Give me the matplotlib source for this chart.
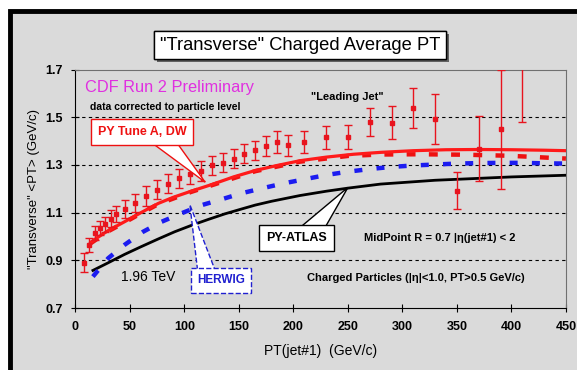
import matplotlib
matplotlib.use("Agg")
import matplotlib.pyplot as plt
from matplotlib.patches import Rectangle, Polygon
from matplotlib import patheffects

plt.rcParams['font.family'] = ['Liberation Sans', 'DejaVu Sans']

# CDF data (corrected to particle level)
pt_data = [7.5, 12.5, 17.5, 22.5, 27.5, 32.5, 37.5, 45, 55, 65, 75, 85, 95, 105, 115,
           125, 135, 145, 155, 165, 175, 185, 195, 210, 230, 250, 270, 290, 310, 330,
           350, 370, 390, 410]
avg_data = [0.891, 0.966, 1.016, 1.036, 1.051, 1.075, 1.095, 1.116, 1.141, 1.170, 1.197,
            1.221, 1.245, 1.261, 1.275, 1.298, 1.310, 1.327, 1.347, 1.361, 1.379, 1.396,
            1.382, 1.397, 1.417, 1.417, 1.481, 1.478, 1.540, 1.492, 1.193, 1.369, 1.450,
            1.73]
err_data = [0.04, 0.03, 0.03, 0.03, 0.03, 0.035, 0.035, 0.037, 0.038, 0.04, 0.04, 0.04,
            0.04, 0.04, 0.04, 0.04, 0.04, 0.04, 0.04, 0.04, 0.042, 0.045, 0.045, 0.045,
            0.048, 0.052, 0.059, 0.07, 0.084, 0.106, 0.078, 0.136, 0.25, 0.25]

# PYTHIA Tune A
pt_tunea = [14, 20, 30, 45, 60, 76, 90, 106, 125, 145, 165, 185, 206, 230, 255, 280,
            310, 340, 370, 400, 430, 450]
avg_tunea = [0.975, 0.995, 1.025, 1.062, 1.100, 1.139, 1.165, 1.190, 1.218, 1.250, 1.277,
             1.298, 1.318, 1.333, 1.345, 1.353, 1.360, 1.364, 1.365, 1.364, 1.362, 1.360]

# PYTHIA DW
pt_dw = [14, 30, 45, 60, 76, 106, 125, 165, 206, 250, 280, 316, 359, 396, 415, 436, 450]
avg_dw = [0.972, 1.022, 1.059, 1.097, 1.136, 1.187, 1.215, 1.274, 1.314, 1.338, 1.344,
          1.345, 1.343, 1.339, 1.335, 1.330, 1.327]

# HERWIG
pt_herwig = [16, 30, 45, 62, 79, 97, 116, 134, 152, 171, 191, 211, 230, 250, 270, 290,
             310, 330, 350, 370, 390, 410, 430, 450]
avg_herwig = [0.832, 0.909, 0.965, 1.020, 1.062, 1.097, 1.132, 1.156, 1.181, 1.202, 1.223,
              1.241, 1.258, 1.272, 1.283, 1.292, 1.298, 1.302, 1.306, 1.308, 1.309, 1.309,
              1.307, 1.306]

# PYTHIA ATLAS
pt_atlas = [16, 30, 45, 60, 76, 91, 107, 122, 137, 152, 165, 180, 206, 230, 250, 280,
            330, 400, 450]
avg_atlas = [0.858, 0.890, 0.925, 0.957, 0.990, 1.020, 1.048, 1.072, 1.095, 1.115, 1.132,
             1.148, 1.172, 1.190, 1.203, 1.220, 1.236, 1.250, 1.257]

x_ticks = [0, 50, 100, 150, 200, 250, 300, 350, 400, 450]
y_ticks = [0.7, 0.9, 1.1, 1.3, 1.5, 1.7]
grid_lines = [0.9, 1.1, 1.3, 1.5]

bg = '#dadada'
fig = plt.figure(figsize=(5.77, 3.70), dpi=100)
fig.patch.set_facecolor('white')

# outer black frame (cut off at right and bottom)
frame = Rectangle((10 / 577, -0.1), 1.2, 1.1 - 11 / 370, transform=fig.transFigure,
                  facecolor=bg, edgecolor='black', linewidth=3.5, zorder=-5)
fig.add_artist(frame)

ax = fig.add_axes([0.1308, 0.1673, 0.850, 0.6446])
ax.set_facecolor(bg)

for g in grid_lines:
    ax.axhline(g, color='black', lw=0.8, ls=(0, (3, 3)), zorder=1)

ax.plot(pt_atlas, avg_atlas, color='black', lw=2.0, zorder=3)
ax.plot(pt_herwig, avg_herwig, color='#1c1cf0', lw=3.2, ls=(0, (1.8, 3.2)), zorder=3)
ax.plot(pt_dw, avg_dw, color='#ee1111', lw=3.2, ls=(0, (2.0, 3.0)), zorder=3)
ax.plot(pt_tunea, avg_tunea, color='#ff1a1a', lw=2.3, zorder=4)
ax.errorbar(pt_data, avg_data, yerr=err_data, fmt='s', color='#e8141e', ms=3.5,
            elinewidth=1.0, capsize=3, capthick=1.0, zorder=5)

ax.set_xlim(0, 450)
ax.set_ylim(0.7, 1.7)
ax.set_xticks(x_ticks)
ax.set_yticks(y_ticks)
ax.set_xticklabels([str(v) for v in x_ticks], fontweight='bold', fontsize=9)
ax.set_yticklabels(['%.1f' % v for v in y_ticks], fontweight='bold', fontsize=9)
ax.tick_params(direction='inout', length=6, width=0.8, pad=6)
ax.spines['left'].set_color('black')
ax.spines['bottom'].set_color('black')
ax.spines['top'].set_color('#707070')
ax.spines['right'].set_color('#707070')

ax.set_xlabel('PT(jet#1)  (GeV/c)', fontsize=10, labelpad=8)
ax.set_ylabel('"Transverse" <PT> (GeV/c)', fontsize=9.5, labelpad=4)

# title box with shadow
t = fig.text(0.520, 0.878, '"Transverse" Charged Average PT', fontsize=13.2,
             ha='center', va='center',
             bbox=dict(boxstyle='square,pad=0.3', fc='white', ec='black', lw=1))
t.get_bbox_patch().set_path_effects([patheffects.withSimplePatchShadow(
    offset=(2, -2), shadow_rgbFace='#555555', alpha=0.9), patheffects.Normal()])

ax.text(8.7, 1.623, 'CDF Run 2 Preliminary', color='#e030e0', fontsize=11.8,
        ha='left', va='center')
ax.text(13.3, 1.543, 'data corrected to particle level', fontsize=7.5,
        fontweight='bold', ha='left', va='center')
ax.text(216, 1.585, '"Leading Jet"', fontsize=8, fontweight='bold', ha='left', va='center')
ax.text(264.7, 0.994, 'MidPoint R = 0.7 |η(jet#1) < 2', fontsize=8, fontweight='bold',
        ha='left', va='center')
ax.text(41.7, 0.830, '1.96 TeV', fontsize=10, ha='left', va='center')
ax.text(212.4, 0.826, 'Charged Particles (|η|<1.0, PT>0.5 GeV/c)', fontsize=8,
        fontweight='bold', ha='left', va='center')

# callouts
def callout(label, center, base, tip, color, fontsize, ls='-'):
    tail = Polygon([base[0], tip, base[1]], closed=True, fc='white', ec=color,
                   lw=1.0, ls=ls, zorder=6)
    ax.add_patch(tail)
    ax.text(center[0], center[1], label, color=color, fontsize=fontsize,
            fontweight='bold', ha='center', va='center', zorder=7,
            bbox=dict(boxstyle='square,pad=0.55', fc='white', ec=color, lw=1.0, ls=ls))

callout('PY Tune A, DW', (61, 1.438), ((68, 1.40), (92, 1.40)), (119, 1.228),
        '#ee1111', 9)
callout('PY-ATLAS', (202.8, 0.994), ((204, 1.03), (228, 1.03)), (250, 1.206),
        'black', 9)
callout('HERWIG', (133.5, 0.816), ((112, 0.86), (128, 0.86)), (105, 1.133),
        '#2020d0', 8.5, ls='--')

fig.savefig('out.png', dpi=100, facecolor=fig.get_facecolor())
